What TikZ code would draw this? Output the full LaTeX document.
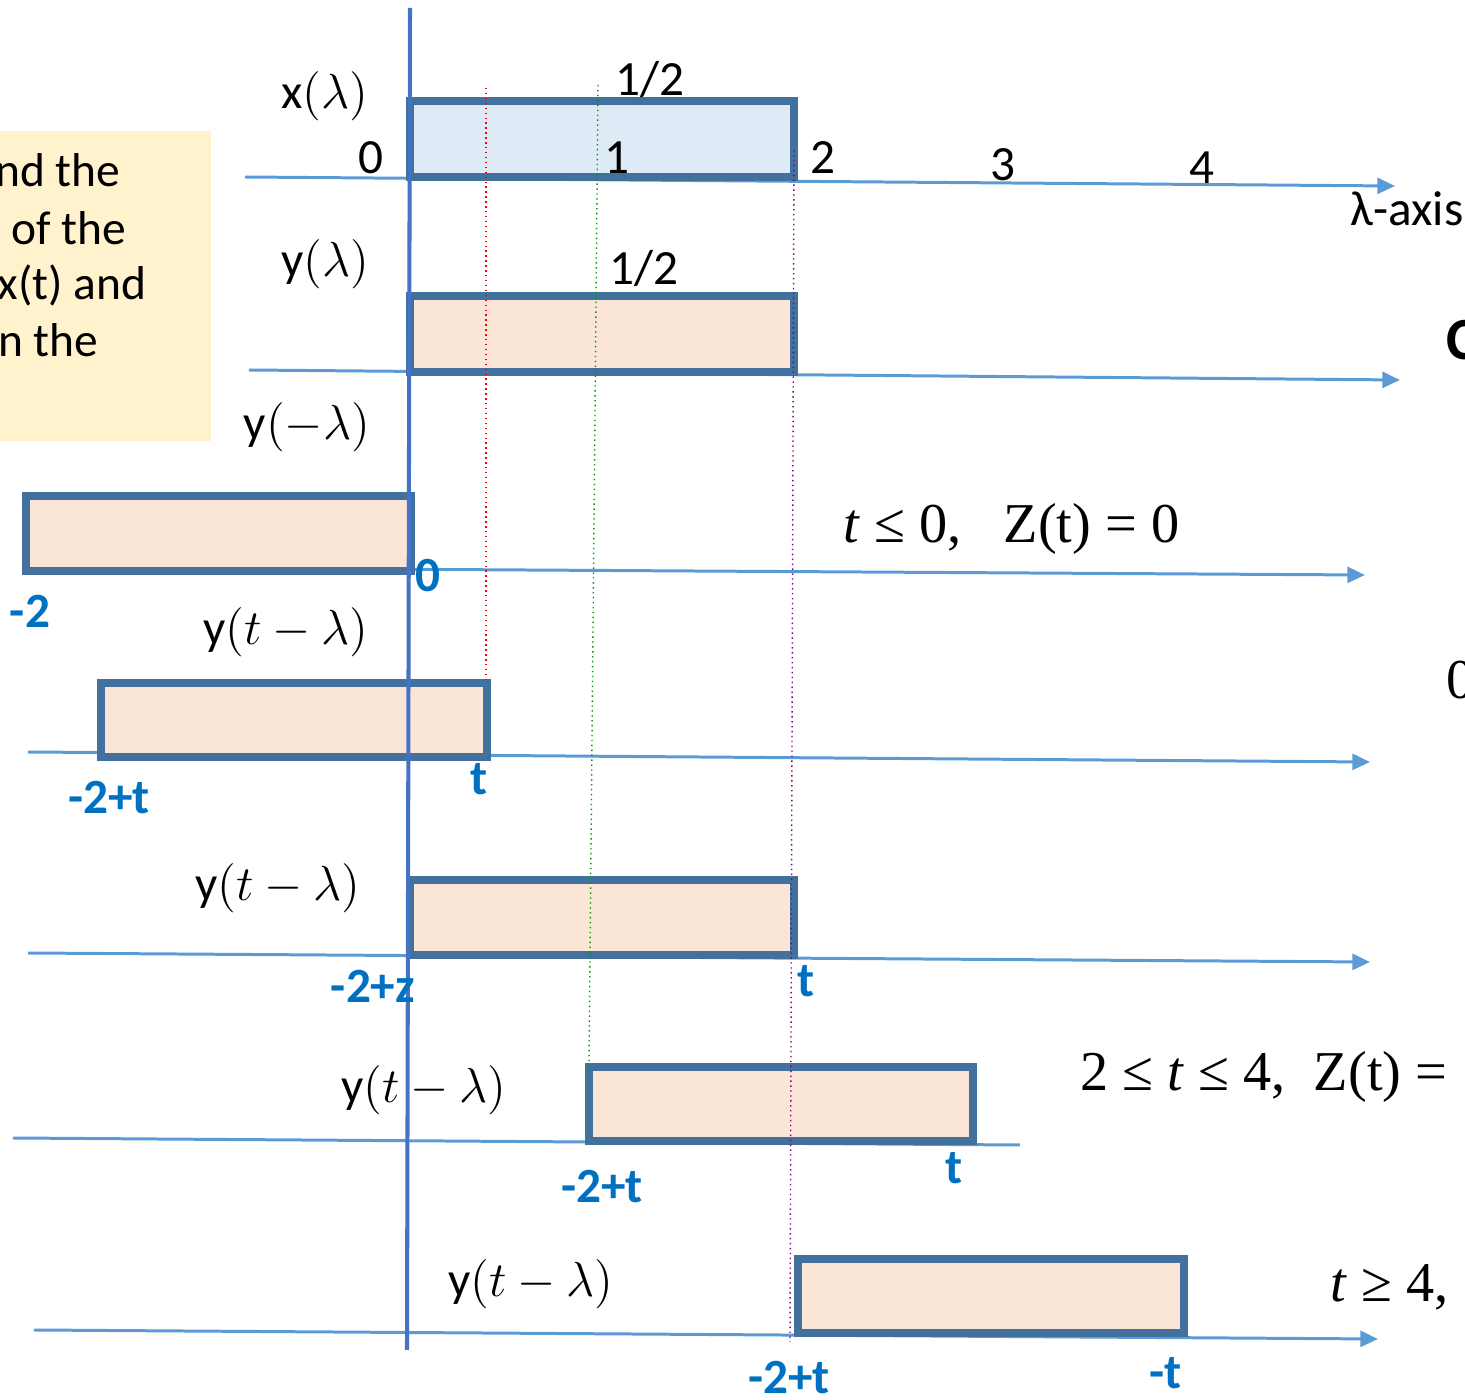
\RequirePackage{fix-cm}
\documentclass[tikz,border=0pt]{standalone}
\usepackage{fontspec}
\newfontfamily\calib{Carlito}
\newfontfamily\libser{Liberation Serif}
\usetikzlibrary{arrows.meta}
\definecolor{axisblue}{HTML}{5B9BD5}
\definecolor{vaxis}{HTML}{4472C4}
\definecolor{boxedge}{HTML}{41719C}
\definecolor{fillblue}{HTML}{DEEBF7}
\definecolor{fillpeach}{HTML}{FBE5D6}
\definecolor{noteyellow}{HTML}{FFF2CC}
\definecolor{labelblue}{HTML}{0070C0}
\tikzset{
  axisline/.style={draw=axisblue, line width=0.85pt},
  axarrow/.style={axisline, -{Triangle[length=5pt,width=4.5pt]}},
  sigbox/.style={draw=boxedge, line width=2.3pt},
  guide/.style={line width=0.4pt, densely dotted},
  lbl/.style={font=\calib\fontsize{14}{17}\selectfont, inner sep=0pt},
  notetext/.style={font=\calib\fontsize{13.5}{16}\selectfont, inner sep=0pt},
  bluelbl/.style={font=\calib\bfseries\fontsize{14}{17}\selectfont, text=labelblue, inner sep=0pt},
  mlbl/.style={font=\libser\fontsize{16}{19}\selectfont, inner sep=0pt},
}
\begin{document}
\begin{tikzpicture}[x=0.01cm,y=-0.01cm]
\useasboundingbox (0,0) rectangle (1465,1400);
\clip (0,0) rectangle (1465,1400);

% yellow note
\fill[noteyellow] (0,131) rectangle (211,441);
\node[notetext, anchor=base east] (n1) at (121,187) {nd the};
\node[notetext, anchor=base east] (n2) at (127,245) {of the};
\node[notetext, anchor=base east] (n3) at (147,300) {x(t) and};
\node[notetext, anchor=base east] (n4) at (99,357) {n the};

% axis end points
\coordinate (a1s) at (245,177);  \coordinate (a1e) at (1395,186);
\coordinate (a2s) at (249,370);  \coordinate (a2e) at (1400,380);
\coordinate (a3s) at (22,567);   \coordinate (a3e) at (1365,575);
\coordinate (a4s) at (28,752);   \coordinate (a4e) at (1370,762);
\coordinate (a5s) at (28,953);   \coordinate (a5e) at (1370,962);
\coordinate (a6s) at (13,1138);  \coordinate (a6e) at (1020,1145);
\coordinate (a7s) at (34,1330);  \coordinate (a7e) at (1378,1339);

\draw[axarrow] (a1s) -- (a1e);
\draw[axarrow] (a2s) -- (a2e);
\draw[axarrow] (a3s) -- (a3e);
\draw[axarrow] (a4s) -- (a4e);
\draw[axarrow] (a5s) -- (a5e);
\draw[axisline] (a6s) -- (a6e);
\draw[axarrow] (a7s) -- (a7e);

% signal boxes
\draw[sigbox, fill=fillblue]  (410,101) rectangle (794,177);
\draw[sigbox, fill=fillpeach] (410,296) rectangle (794,372);
\draw[sigbox, fill=fillpeach] (26,496) rectangle (411,571);
\draw[sigbox, fill=fillpeach] (101,683) rectangle (487,757);
\draw[sigbox, fill=fillpeach] (410,880) rectangle (794,955);
\draw[sigbox, fill=fillpeach] (589,1067) rectangle (973,1141);
\draw[sigbox, fill=fillpeach] (798,1259) rectangle (1184,1333);

% dotted guides
\coordinate (r1) at (486,88);  \coordinate (r2) at (486,683);
\coordinate (g1) at (598,85);  \coordinate (g2) at (589,1067);
\coordinate (p1) at (794,150); \coordinate (p2) at (790,1342);
\draw[guide, red] (r1) -- (r2);
\draw[guide, green!60!black] (g1) -- (g2);
\draw[guide, violet] (p1) -- (p2);

% vertical axis
\coordinate (vt) at (410,8); \coordinate (vb) at (407,1350);
\draw[draw=vaxis, line width=1.15pt] (vt) -- (vb);

% labels row 1
\node[lbl] (xl) at (325,96) {x$(\lambda)$};
\node[lbl] (z0) at (371,158) {0};
\node[lbl] (h1) at (650,79) {1/2};
\node[lbl] (t1) at (617,158) {1};
\node[lbl] (t2) at (823,158) {2};
\node[lbl] (t3) at (1003,165) {3};
\node[lbl] (t4) at (1202,168) {4};
\node[lbl] (lax) at (1407,209) {λ-axis};

% row 2
\node[lbl] (yl) at (325,264) {y$(\lambda)$};
\node[lbl] (h2) at (644,268) {1/2};
\node[font=\calib\bfseries\fontsize{17}{20}\selectfont, inner sep=0pt, anchor=west] (cc) at (1446,340) {C};

% row 3
\node[lbl] (yml) at (307,427) {y$(-\lambda)$};
\node[mlbl, anchor=west] (c1) at (843,529) {\textit{t} ≤ 0,\ \ \ Z(t) = 0};
\node[bluelbl] (b0) at (428,576) {0};
\node[bluelbl] (bm2) at (30,611) {-2};

% row 4
\node[lbl] (ytl1) at (286,632) {y$(t-\lambda)$};
\node[bluelbl] (bt1) at (479,779) {t};
\node[bluelbl] (bm2t1) at (109,798) {-2+t};
\node[mlbl, anchor=west] (zz) at (1446,680) {0};

% row 5
\node[lbl] (ytl2) at (278,888) {y$(t-\lambda)$};
\node[bluelbl] (bm2z) at (373,986) {-2+z};
\node[bluelbl] (bt2) at (806,981) {t};

% row 6
\node[lbl] (ytl3) at (424,1090) {y$(t-\lambda)$};
\node[mlbl, anchor=west] (c2) at (1080,1077) {2 ≤ \textit{t} ≤ 4,\ \ Z(t) =};
\node[bluelbl] (bm2t3) at (602,1187) {-2+t};
\node[bluelbl] (bt3) at (954,1168) {t};

% row 7
\node[lbl] (ytl4) at (531,1284) {y$(t-\lambda)$};
\node[mlbl, anchor=west] (c3) at (1330,1287) {\textit{t} ≥ 4,};
\node[bluelbl] (bm2t4) at (789,1378) {-2+t};
\node[bluelbl] (bmt4) at (1166,1373) {-t};
\end{tikzpicture}
\end{document}
